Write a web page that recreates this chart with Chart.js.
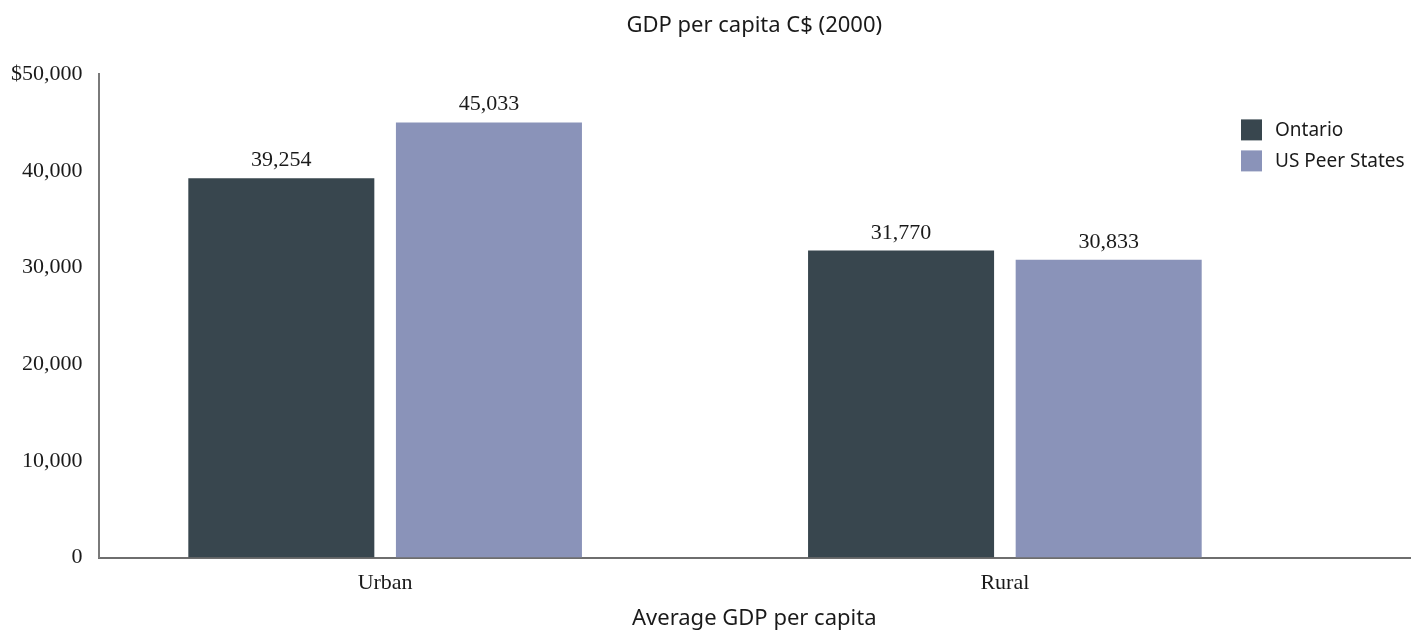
<!DOCTYPE html>
<html>
<head>
<meta charset="utf-8">
<script src="https://cdn.jsdelivr.net/npm/chart.js@4"></script>
<style>
  html, body { margin: 0; padding: 0; background: #fff; }
  #wrap { width: 1422px; height: 631px; }
</style>
</head>
<body>
<div id="wrap"><canvas id="gdpChart"></canvas></div>
<script>
const categories = ['Urban', 'Rural'];
const ontario = [39254, 31770];
const usPeers = [45033, 30833];
const yTicks = [0, 10000, 20000, 30000, 40000, 50000];

const serif = '"Liberation Serif", "Times New Roman", serif';
const sans = '"Noto Sans", "Open Sans", sans-serif';

// bars sit on a linear x axis so each group can be placed where we want
const toPoints = arr => arr.map((v, i) => ({ x: i, y: v }));

// value printed above every bar
const barValues = {
    id: 'barValues',
    afterDatasetsDraw(chart) {
        const ctx = chart.ctx;
        ctx.save();
        ctx.font = '22px ' + serif;
        ctx.fillStyle = '#1a1a1a';
        ctx.textAlign = 'center';
        ctx.textBaseline = 'alphabetic';
        chart.data.datasets.forEach((ds, di) => {
            chart.getDatasetMeta(di).data.forEach((bar, i) => {
                ctx.fillText(ds.data[i].y.toLocaleString('en-US'), bar.x, bar.y - 12);
            });
        });
        ctx.restore();
    }
};

// legend boxes in the upper right of the plot
const innerLegend = {
    id: 'innerLegend',
    afterDraw(chart) {
        const ctx = chart.ctx;
        const area = chart.chartArea;
        const x = area.right - 169;
        let y = area.top + 45;
        ctx.save();
        ctx.font = '19px ' + sans;
        ctx.textBaseline = 'middle';
        ctx.textAlign = 'left';
        chart.data.datasets.forEach(ds => {
            ctx.fillStyle = ds.backgroundColor;
            ctx.fillRect(x, y, 21, 21);
            ctx.fillStyle = '#1a1a1a';
            ctx.fillText(ds.label, x + 34, y + 11);
            y += 31;
        });
        ctx.restore();
    }
};

const ctx = document.getElementById('gdpChart');

new Chart(ctx, {
    type: 'bar',
    data: {
        datasets: [{
            label: 'Ontario',
            data: toPoints(ontario),
            backgroundColor: '#38464e',
            categoryPercentage: 0.67,
            barPercentage: 0.896
        }, {
            label: 'US Peer States',
            data: toPoints(usPeers),
            backgroundColor: '#8a93b9',
            categoryPercentage: 0.67,
            barPercentage: 0.896
        }]
    },
    options: {
        responsive: true,
        maintainAspectRatio: false,
        animation: false,
        layout: {
            padding: { left: -5, right: 12, top: 0, bottom: 0 }
        },
        plugins: {
            legend: { display: false },
            title: { display: false },
            tooltip: { enabled: false }
        },
        scales: {
            x: {
                type: 'linear',
                offset: false,
                min: -0.4625,
                max: 1.6537,
                afterBuildTicks: axis => {
                    axis.ticks = categories.map((c, i) => ({ value: i }));
                },
                grid: { display: false, drawTicks: false, offset: false },
                border: { display: true, color: '#6e6e6e', width: 2 },
                ticks: {
                    padding: 12,
                    maxRotation: 0,
                    color: '#1a1a1a',
                    font: { family: serif, size: 22 },
                    callback: v => categories[v]
                },
                title: {
                    display: true,
                    text: 'Average GDP per capita',
                    color: '#1a1a1a',
                    font: { family: sans, size: 22, lineHeight: 1 },
                    padding: { top: 0, bottom: 1 }
                }
            },
            xTop: {
                type: 'linear',
                position: 'top',
                offset: false,
                grid: { display: false, drawTicks: false },
                border: { display: false },
                ticks: { display: false },
                title: {
                    display: true,
                    text: 'GDP per capita C$ (2000)',
                    color: '#1a1a1a',
                    font: { family: sans, size: 22 },
                    padding: { top: 13, bottom: 35 }
                }
            },
            y: {
                min: 0,
                max: 50000,
                afterBuildTicks: axis => {
                    axis.ticks = yTicks.map(v => ({ value: v }));
                },
                grid: { display: false, drawTicks: false },
                border: { display: true, color: '#7a7a7a', width: 2 },
                ticks: {
                    padding: 16,
                    color: '#1a1a1a',
                    font: { family: serif, size: 22 },
                    callback: v => (v === 50000 ? '$' : '') + v.toLocaleString('en-US')
                }
            }
        }
    },
    plugins: [barValues, innerLegend]
});
</script>
</body>
</html>
